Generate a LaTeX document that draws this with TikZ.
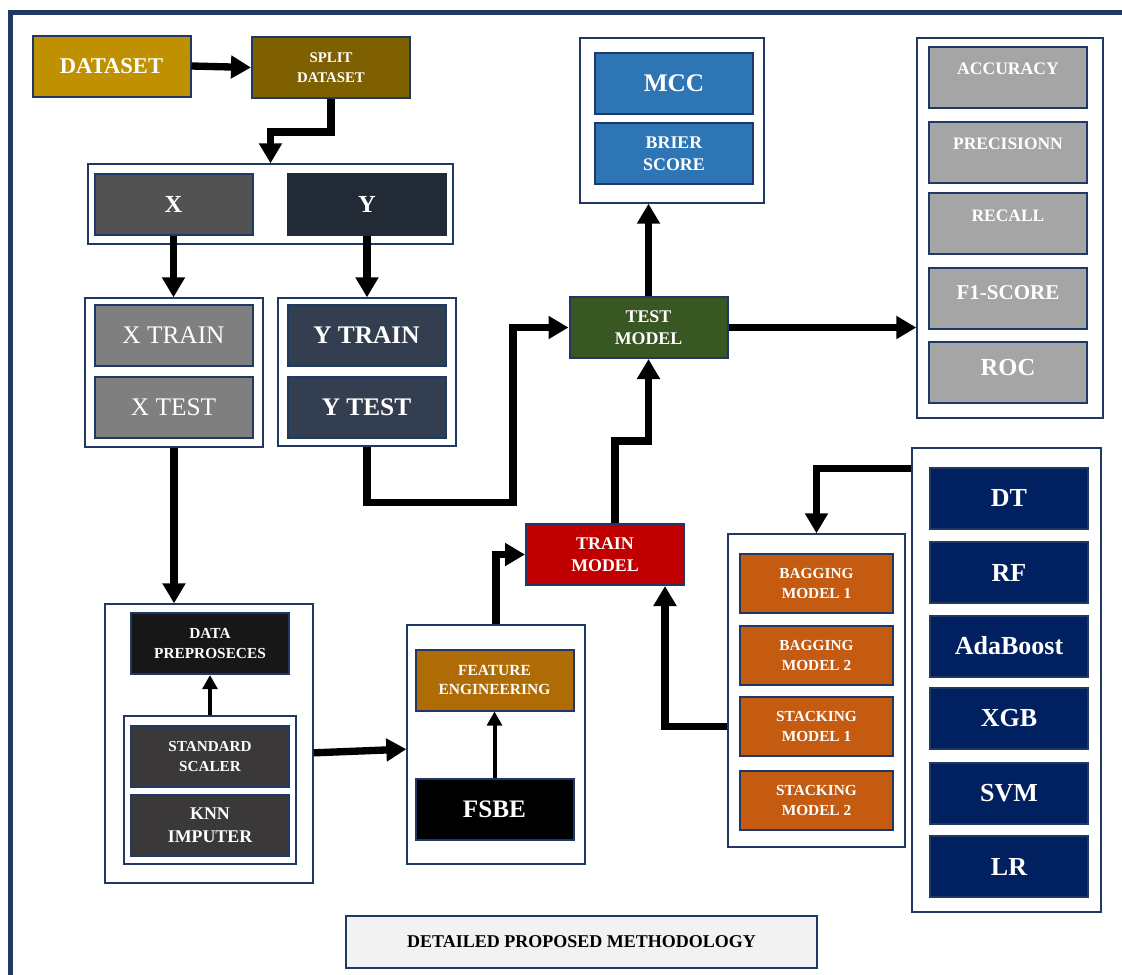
\documentclass[tikz,border=0pt]{standalone}
\usepackage{fontspec}
\setmainfont{Liberation Serif}
\usepackage{tikz}
\usetikzlibrary{arrows.meta}

\definecolor{frameblue}{HTML}{1F3864}
\definecolor{gold}{HTML}{BF9000}
\definecolor{splitbrown}{HTML}{7F6000}
\definecolor{xgrey}{HTML}{525252}
\definecolor{ynavy}{HTML}{222A35}
\definecolor{xlight}{HTML}{7F7F7F}
\definecolor{yslate}{HTML}{333F50}
\definecolor{mccblue}{HTML}{2E75B6}
\definecolor{testgreen}{HTML}{385723}
\definecolor{metricgrey}{HTML}{A5A5A5}
\definecolor{modelnavy}{HTML}{002060}
\definecolor{trainred}{HTML}{C00000}
\definecolor{ensorange}{HTML}{C55A11}
\definecolor{prepblack}{HTML}{171717}
\definecolor{scalergrey}{HTML}{3A3838}
\definecolor{feabrown}{HTML}{AF6B05}
\definecolor{titlegrey}{HTML}{F2F2F2}

\newcommand{\boxfont}[2]{\fontsize{#1}{#2}\selectfont\bfseries}

\begin{document}
\begin{tikzpicture}[x=0.75pt, y=-0.75pt,
        sized/.style 2 args={minimum width=#1*0.75pt, minimum height=#2*0.75pt},
        group/.style={draw=frameblue, line width=1pt, fill=white, inner sep=0pt},
        box/.style={draw=frameblue, line width=1.5pt, fill=#1, text=white, align=center,
            inner sep=0pt, sized={158}{61}},
        ensbox/.style={box=ensorange, sized={153}{59}, font=\boxfont{11.5}{15}},
        modelbox/.style={box=modelnavy, font=\boxfont{19.5}{22}},
        metricbox/.style={box=metricgrey},
        mlabel/.style={text=white, inner sep=0pt},
        flow/.style={line width=5.5pt, -{Triangle[length=15pt, width=16.5pt]}},
        thinflow/.style={line width=3pt, -{Triangle[length=10.5pt, width=11pt]}}]
        \useasboundingbox (0,0) rectangle (1122,975);

        % outer frame
        \draw[frameblue, line width=3.75pt] (10,975) -- (10,12) -- (1122,12);

        % containers
        \node[group, sized={365}{80}] (xy) at (270.5,204) {};
        \node[group, sized={178}{149}] (xsplit) at (174,372.5) {};
        \node[group, sized={178}{148}] (ysplit) at (367,372) {};
        \node[group, sized={184}{165}] (scores) at (672,120.5) {};
        \node[group, sized={186}{380}] (metrics) at (1010,228) {};
        \node[group, sized={189}{464}] (models) at (1006.5,680) {};
        \node[group, sized={177}{313}] (ensemble) at (816.5,690.5) {};
        \node[group, sized={208}{279}] (prepro) at (209,743.5) {};
        \node[group, sized={172}{148}] (scaling) at (210,790) {};
        \node[group, sized={178}{239}] (features) at (496,744.5) {};

        % data flow
        \node[box=gold, font=\boxfont{16.9}{20}] (dataset) at (111.5,66) {DATASET};
        \node[box=splitbrown, font=\boxfont{11.1}{15}] (split) at (331,67.5) {SPLIT\\DATASET};
        \node[box=xgrey, font=\boxfont{18.4}{22}] (xdata) at (173.5,204) {X};
        \node[box=ynavy, draw=ynavy, font=\boxfont{18.4}{22}] (ydata) at (367,204.5) {Y};
        \node[box=xlight, font=\fontsize{19}{22}\selectfont] (xtrain) at (173.5,335.5) {X TRAIN};
        \node[box=xlight, font=\fontsize{19}{22}\selectfont] (xtest) at (173.5,407) {X TEST};
        \node[box=yslate, font=\boxfont{19}{22}] (ytrain) at (366.5,335.5) {Y TRAIN};
        \node[box=yslate, font=\boxfont{19}{22}] (ytest) at (366.5,407.5) {Y TEST};

        % scores and metrics
        \node[box=mccblue, font=\boxfont{19}{22}] (mcc) at (674,83.5) {MCC};
        \node[box=mccblue, font=\boxfont{13.4}{16.5}] (brier) at (674,153.5) {BRIER\\SCORE};
        \node[box=testgreen, font=\boxfont{13.4}{16.5}] (test) at (648.5,327.5) {TEST\\MODEL};
        \node[metricbox, label={[mlabel, yshift=6.5pt, font=\boxfont{13.2}{16}]center:ACCURACY}] (acc) at (1008,77) {};
        \node[metricbox, label={[mlabel, yshift=6.5pt, font=\boxfont{13.1}{16}]center:PRECISIONN}] (prec) at (1008,152) {};
        \node[metricbox, label={[mlabel, yshift=5.5pt, font=\boxfont{13.1}{16}]center:RECALL}] (recall) at (1008,223) {};
        \node[metricbox, label={[mlabel, yshift=3.75pt, font=\boxfont{15.8}{18}]center:F1-SCORE}] (fone) at (1008,298) {};
        \node[metricbox, label={[mlabel, yshift=3.75pt, font=\boxfont{18.4}{22}]center:ROC}] (roc) at (1008,372) {};

        % models
        \node[modelbox] (dt) at (1009,498.5) {DT};
        \node[modelbox] (rf) at (1009,572.5) {RF};
        \node[modelbox] (ada) at (1009,646) {AdaBoost};
        \node[modelbox] (xgb) at (1009,718) {XGB};
        \node[modelbox] (svm) at (1009,793.5) {SVM};
        \node[modelbox] (lr) at (1009,866.5) {LR};

        \node[box=trainred, font=\boxfont{13.4}{16.5}] (train) at (605,554.5) {TRAIN\\MODEL};
        \node[ensbox] (bag1) at (816.5,583.5) {BAGGING\\MODEL 1};
        \node[ensbox] (bag2) at (816.5,655.5) {BAGGING\\MODEL 2};
        \node[ensbox] (stack1) at (816.5,726.5) {STACKING\\MODEL 1};
        \node[ensbox] (stack2) at (816.5,800.5) {STACKING\\MODEL 2};

        % preprocessing and features
        \node[box=prepblack, font=\boxfont{11.5}{15}] (prep) at (210,643.5) {DATA\\PREPROSECES};
        \node[box=scalergrey, font=\boxfont{11.4}{15}] (scaler) at (210,756.5) {STANDARD\\SCALER};
        \node[box=scalergrey, font=\boxfont{13.4}{17}] (knn) at (210,825) {KNN\\IMPUTER};
        \node[box=feabrown, font=\boxfont{11.6}{14.3}] (fe) at (494.5,680) {FEATURE\\ENGINEERING};
        \node[box=black, font=\boxfont{18.9}{22}] (fsbe) at (494.5,809) {FSBE};

        \node[draw=frameblue, line width=1.5pt, fill=titlegrey, sized={471}{52},
            font=\boxfont{13.5}{16}] (title) at (581.5,942) {DETAILED PROPOSED METHODOLOGY};

        % arrows
        \draw[flow] (dataset.east) -- (split.west);
        \draw[flow] (split.south) -- ++(0,33) -| (xy.north);
        \draw[flow] (xdata.south) -- (xdata.south |- xsplit.north);
        \draw[flow] (ydata.south) -- (ydata.south |- ysplit.north);
        \draw[flow] (xsplit.south) -- (xsplit.south |- prepro.north);
        \draw[flow] (ysplit.south) -- ++(0,56) -- ++(146,0) |- (test.west);
        \draw[flow] (test.north) -- (test.north |- scores.south);
        \draw[flow] (test.east) -- (test.east -| metrics.west);
        \draw[flow] ([xshift=7.5pt]train.north) -- ++(0,-82) -| (test.south);
        \draw[flow] (features.north) |- (train.west);
        \draw[flow] (ensemble.west |- stack1) -| ([xshift=45pt]train.south);
        \draw[flow] ([yshift=-15.75pt]models.north west) -| (ensemble.north);
        \draw[flow] ([yshift=-7pt]prepro.east) -- ([yshift=-3.5pt]features.west);
        \draw[thinflow] (fsbe.north) -- (fe.south);
        \draw[thinflow] (scaling.north) -- (prep.south);
    \end{tikzpicture}
\end{document}
